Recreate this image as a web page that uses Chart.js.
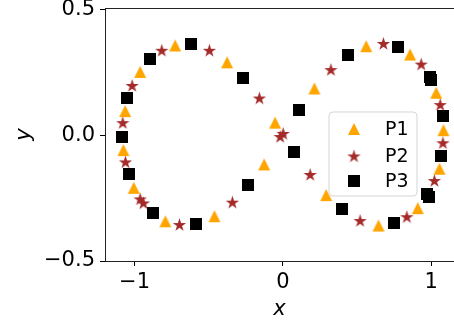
<!DOCTYPE html>
<html>
<head>
<meta charset="utf-8">
<script src="https://cdn.jsdelivr.net/npm/chart.js@4/dist/chart.umd.min.js"></script>
<style>
  html, body { margin: 0; padding: 0; background: #fff; }
  canvas { display: block; }
</style>
</head>
<body>
<canvas id="chart" width="454" height="328"></canvas>
<script>
// Values
const p1X = [-1.063, -0.962, -0.726, -0.376, -0.052, 0.213, 0.562, 0.858, 1.034, 1.083, 1.056, 0.910, 0.645, 0.292, -0.126, -0.461, -0.792, -1.005, -1.075];
const p1Y = [0.096, 0.252, 0.357, 0.290, 0.050, 0.186, 0.354, 0.321, 0.169, 0.020, -0.133, -0.290, -0.359, -0.238, -0.116, -0.322, -0.342, -0.209, -0.059];

const p2X = [-1.079, -1.016, -0.816, -0.495, -0.158, -0.018, 0.002, 0.184, 0.521, 0.836, 1.022, 1.079, 1.061, 0.933, 0.678, 0.324, -0.340, -0.697, -0.962, -0.940, -1.061];
const p2Y = [0.050, 0.198, 0.338, 0.338, 0.148, -0.005, 0.007, -0.156, -0.339, -0.324, -0.180, -0.030, 0.122, 0.283, 0.365, 0.261, -0.266, -0.355, -0.253, -0.269, -0.106];

const p3X = [-1.048, -0.895, -0.618, -0.266, 0.110, 0.438, 0.775, 0.989, 1.000, 1.079, 1.067, 0.975, 0.983, 0.751, 0.402, 0.076, -0.232, -0.583, -0.873, -1.037, -1.082];
const p3Y = [0.147, 0.303, 0.364, 0.228, 0.102, 0.318, 0.350, 0.232, 0.220, 0.075, -0.081, -0.232, -0.244, -0.350, -0.295, -0.066, -0.199, -0.352, -0.308, -0.154, -0.005];

const seriesNames = ['P1', 'P2', 'P3'];
const xTicks = [-1, 0, 1];
const xTickLabels = ['\u22121', '0', '1'];
const yTicks = [-0.5, 0, 0.5];
const yTickLabels = ['\u22120.5', '0.0', '0.5'];

const FONT = "'DejaVu Sans', sans-serif";

// Marker images (matplotlib-like filled triangle, star, square)
function makeMarker(size, draw) {
  const c = document.createElement('canvas');
  c.width = size;
  c.height = size;
  draw(c.getContext('2d'), size);
  return c;
}

const triangle = makeMarker(14, (ctx, s) => {
  ctx.fillStyle = '#FFA500';
  ctx.beginPath();
  ctx.moveTo(s / 2, 1);
  ctx.lineTo(1, s - 1);
  ctx.lineTo(s - 1, s - 1);
  ctx.closePath();
  ctx.fill();
});

const star = makeMarker(15, (ctx, s) => {
  const cx = s / 2, cy = s / 2 + 0.6;
  const outer = 7, inner = outer * 0.382;
  ctx.fillStyle = '#A52A2A';
  ctx.beginPath();
  for (let i = 0; i < 10; i++) {
    const r = i % 2 === 0 ? outer : inner;
    const a = -Math.PI / 2 + i * Math.PI / 5;
    const px = cx + r * Math.cos(a), py = cy + r * Math.sin(a);
    if (i === 0) ctx.moveTo(px, py); else ctx.lineTo(px, py);
  }
  ctx.closePath();
  ctx.fill();
});

const square = makeMarker(12, (ctx, s) => {
  ctx.fillStyle = '#000';
  ctx.fillRect(0, 0, s, s);
});

const markers = [triangle, star, square];

function toPoints(xs, ys) {
  return xs.map((x, i) => ({ x: x, y: ys[i] }));
}

// Top spine (right spine is outside the picture)
const topSpine = {
  id: 'topSpine',
  afterDraw(chart) {
    const { ctx, chartArea } = chart;
    ctx.save();
    ctx.strokeStyle = '#222';
    ctx.lineWidth = 1;
    ctx.beginPath();
    ctx.moveTo(chartArea.left, chartArea.top + 0.5);
    ctx.lineTo(chartArea.right, chartArea.top + 0.5);
    ctx.stroke();
    ctx.restore();
  }
};

// Legend box inside the axes, matplotlib style
const boxLegend = {
  id: 'boxLegend',
  afterDatasetsDraw(chart) {
    const ctx = chart.ctx;
    const x0 = 329, y0 = 112, w = 88, h = 84, r = 4;
    ctx.save();
    ctx.beginPath();
    ctx.moveTo(x0 + r, y0);
    ctx.lineTo(x0 + w - r, y0);
    ctx.quadraticCurveTo(x0 + w, y0, x0 + w, y0 + r);
    ctx.lineTo(x0 + w, y0 + h - r);
    ctx.quadraticCurveTo(x0 + w, y0 + h, x0 + w - r, y0 + h);
    ctx.lineTo(x0 + r, y0 + h);
    ctx.quadraticCurveTo(x0, y0 + h, x0, y0 + h - r);
    ctx.lineTo(x0, y0 + r);
    ctx.quadraticCurveTo(x0, y0, x0 + r, y0);
    ctx.closePath();
    ctx.fillStyle = 'rgba(255,255,255,0.8)';
    ctx.fill();
    ctx.strokeStyle = 'rgba(204,204,204,0.8)';
    ctx.lineWidth = 1;
    ctx.stroke();

    const rows = [129, 156, 181];
    ctx.font = '19px ' + FONT;
    ctx.fillStyle = '#000';
    ctx.textBaseline = 'middle';
    ctx.textAlign = 'left';
    chart.data.datasets.forEach((ds, i) => {
      const m = markers[i];
      ctx.drawImage(m, 354 - m.width / 2, rows[i] - m.height / 2);
      ctx.fillText(ds.label, 385, rows[i] + 1);
    });
    ctx.restore();
  }
};

const ctx = document.getElementById('chart').getContext('2d');
new Chart(ctx, {
  type: 'scatter',
  data: {
    datasets: [
      { label: seriesNames[0], data: toPoints(p1X, p1Y), pointStyle: triangle, pointRadius: 6, backgroundColor: '#FFA500', borderColor: '#FFA500' },
      { label: seriesNames[1], data: toPoints(p2X, p2Y), pointStyle: star, pointRadius: 6, backgroundColor: '#A52A2A', borderColor: '#A52A2A' },
      { label: seriesNames[2], data: toPoints(p3X, p3Y), pointStyle: square, pointRadius: 6, backgroundColor: '#000', borderColor: '#000' }
    ]
  },
  options: {
    responsive: false,
    animation: false,
    events: [],
    layout: { autoPadding: false, padding: { top: 8, left: 0, right: 0, bottom: 0 } },
    plugins: {
      legend: { display: false },
      tooltip: { enabled: false }
    },
    scales: {
      x: {
        type: 'linear',
        min: -1.199,
        max: 1.154,
        afterBuildTicks: scale => { scale.ticks = xTicks.map(v => ({ value: v })); },
        afterFit: scale => {
          scale.height = 67;
          scale.paddingLeft = 0;
          scale.paddingRight = 0;
        },
        grid: { drawOnChartArea: false, drawTicks: true, tickLength: 5, color: '#000' },
        border: { display: true, color: '#222', width: 1 },
        ticks: {
          color: '#000',
          padding: 4,
          maxRotation: 0,
          font: { family: FONT, size: 21 },
          callback: v => xTickLabels[xTicks.indexOf(v)]
        },
        title: {
          display: true,
          text: 'x',
          color: '#000',
          padding: { top: 0, bottom: 6 },
          font: { family: FONT, size: 21, style: 'italic' }
        }
      },
      y: {
        type: 'linear',
        min: -0.5,
        max: 0.506,
        afterBuildTicks: scale => { scale.ticks = yTicks.map(v => ({ value: v })); },
        afterFit: scale => {
          scale.width = 105;
          scale.paddingTop = 0;
          scale.paddingBottom = 0;
        },
        grid: { drawOnChartArea: false, drawTicks: true, tickLength: 5, color: '#000' },
        border: { display: true, color: '#222', width: 1 },
        ticks: {
          color: '#000',
          padding: 5,
          font: { family: FONT, size: 21 },
          callback: v => yTickLabels[yTicks.indexOf(v)]
        },
        title: {
          display: true,
          text: 'y',
          color: '#000',
          padding: { top: 12, bottom: 0 },
          font: { family: FONT, size: 21, style: 'italic' }
        }
      }
    }
  },
  plugins: [topSpine, boxLegend]
});
</script>
</body>
</html>
